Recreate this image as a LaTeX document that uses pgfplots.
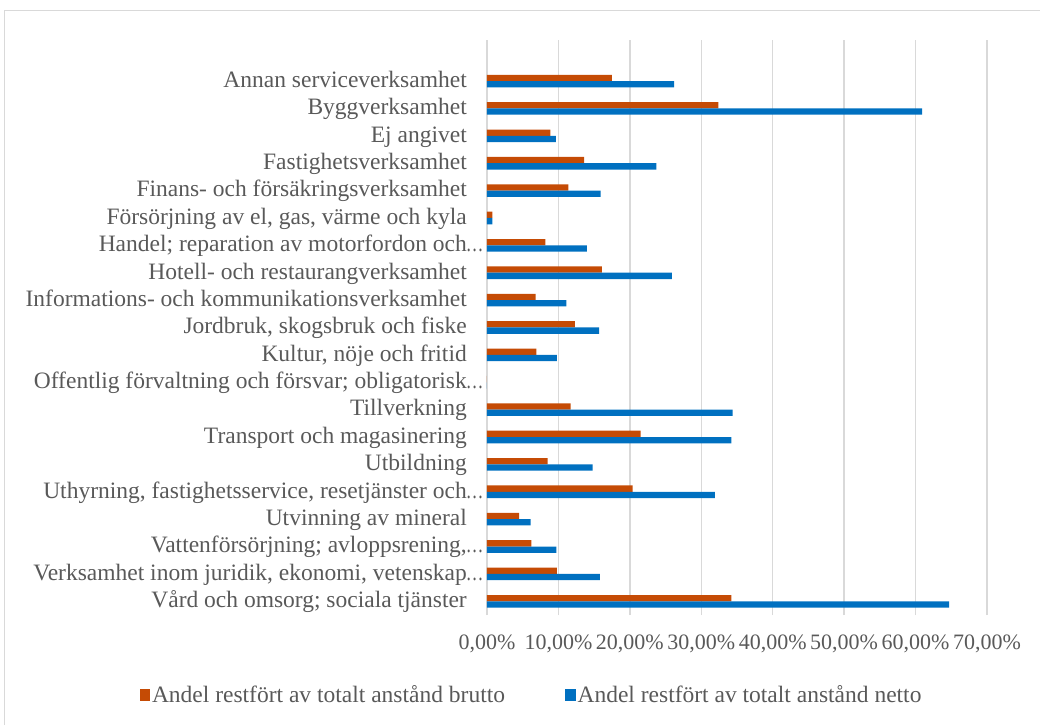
\documentclass[border=0pt]{standalone}
\usepackage{fontspec}
\setmainfont{Liberation Serif}
\usepackage{graphicx}
\usepackage{pgfplots}
\pgfplotsset{compat=1.18}
\usepackage{pgfplotstable}
\definecolor{brutto}{RGB}{197,75,5}
\definecolor{netto}{RGB}{0,112,192}
\definecolor{txt}{RGB}{89,89,89}
\definecolor{gridc}{RGB}{217,217,217}

\pgfplotstableread{
y brutto netto
19 17.5 26.2
18 32.4 60.9
17 8.86 9.66
16 13.6 23.7
15 11.4 15.9
14 0.74 0.77
13 8.16 14.0
12 16.1 25.9
11 6.8 11.1
10 12.3 15.7
9 6.9 9.8
8 0 0
7 11.7 34.4
6 21.5 34.2
5 8.5 14.8
4 20.4 31.9
3 4.5 6.1
2 6.2 9.7
1 9.8 15.8
0 34.2 64.7
}\datatable

\newcommand{\ellip}{\rlap{\kern-1pt\scalebox{0.75}[1]{…}}}

\begin{document}
\begin{tikzpicture}[x=1pt,y=1pt]
\begin{axis}[
  scale only axis, width=500pt, height=575pt,
  xmin=0, xmax=70, ymin=-0.5, ymax=20.5,
  xbar, bar width=6.3pt,
  axis line style={draw=none},
  major tick length=0pt,
  tick style={draw=none},
  xmajorgrids=true, ymajorgrids=false,
  major grid style={gridc, line width=1.3pt},
  xtick={0,10,...,70},
  xticklabels={{0,00\%},{10,00\%},{20,00\%},{30,00\%},{40,00\%},{50,00\%},{60,00\%},{70,00\%}},
  xticklabel style={font=\fontsize{22}{24}\selectfont, text=txt, anchor=base, yshift=-34pt},
  ytick={0,...,19},
  yticklabels={
    {Vård och omsorg; sociala tjänster},
    {Verksamhet inom juridik, ekonomi, vetenskap\ellip},
    {Vattenförsörjning; avloppsrening,\ellip},
    {Utvinning av mineral},
    {Uthyrning, fastighetsservice, resetjänster och\ellip},
    {Utbildning},
    {Transport och magasinering},
    {Tillverkning},
    {Offentlig förvaltning och försvar; obligatorisk\ellip},
    {Kultur, nöje och fritid},
    {Jordbruk, skogsbruk och fiske},
    {Informations- och kommunikationsverksamhet},
    {Hotell- och restaurangverksamhet},
    {Handel; reparation av motorfordon och\ellip},
    {Försörjning av el, gas, värme och kyla},
    {Finans- och försäkringsverksamhet},
    {Fastighetsverksamhet},
    {Ej angivet},
    {Byggverksamhet},
    {Annan serviceverksamhet}},
  yticklabel style={font=\fontsize{23.5}{26}\selectfont, text=txt, anchor=mid east, inner sep=0pt, xshift=-20pt, yshift=-4pt},
  legend style={at={(0.089,-0.139)}, anchor=center, draw=none, fill=none,
    legend columns=2, font=\fontsize{23.5}{26}\selectfont, text=txt,
    /tikz/every even column/.append style={column sep=58pt}},
  legend image code/.code={\fill[#1] (0pt,-6pt) rectangle (10.5pt,6pt);},
]
\coordinate (ll) at (rel axis cs:0,0);
\addplot[fill=brutto, draw=none, bar shift=3.15pt] table[x=brutto, y=y] {\datatable};
\addplot[fill=netto, draw=none, bar shift=-3.15pt] table[x=netto, y=y] {\datatable};
\legend{Andel restfört av totalt anstånd brutto, Andel restfört av totalt anstånd netto}
\end{axis}
\pgfresetboundingbox
\path[use as bounding box] ([shift={(-487,-110)}]ll) rectangle ++(1040,725);
\draw[gridc, line width=1.2pt] ([shift={(-482.5,-110)}]ll) -- ++(0,725-10.7) -- ++(1040,0);
\end{tikzpicture}
\end{document}
